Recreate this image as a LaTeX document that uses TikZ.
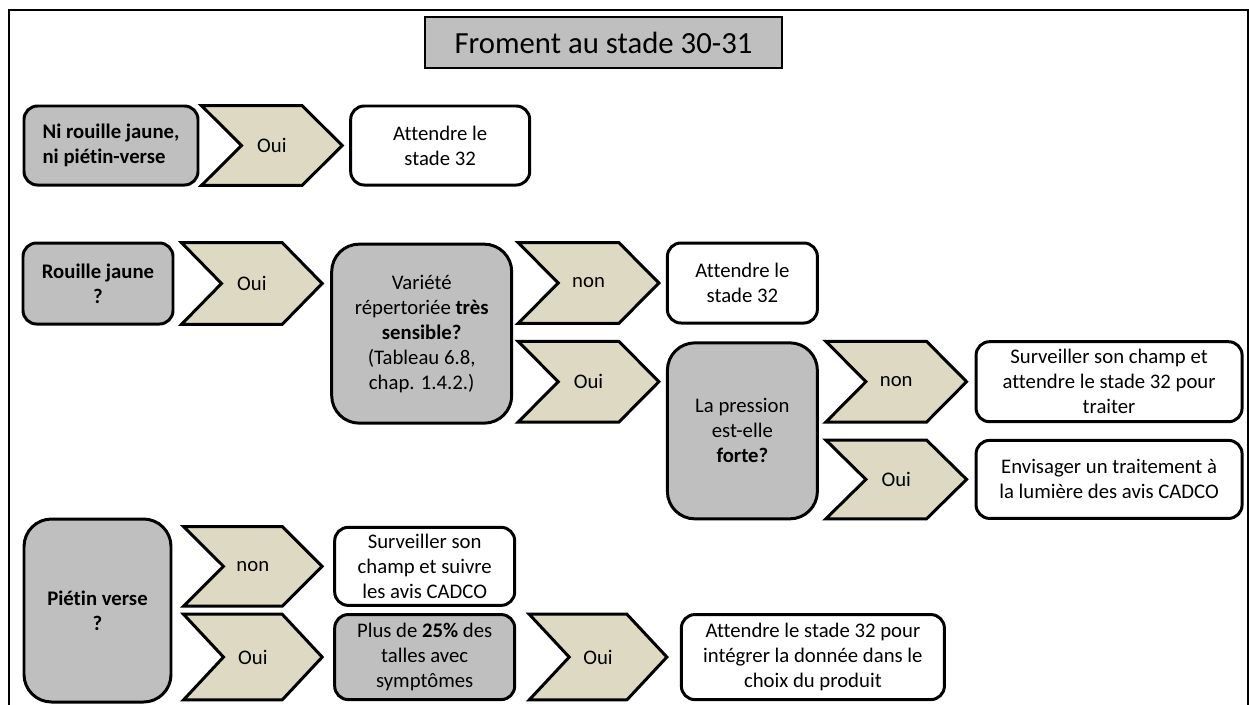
\documentclass[tikz,border=0pt]{standalone}
\usepackage{fontspec}
\setmainfont{Carlito}[Ligatures=CommonOff]
\usetikzlibrary{
    positioning,
    backgrounds,
}
\definecolor{boxgray}{RGB}{191,191,191}
\definecolor{chevtan}{RGB}{221,217,195}
\tikzset{
    node distance=0.14cm,
    every node/.style={font=\fontsize{11.8}{14.2}\selectfont},
    box/.style={rectangle, draw, line width=1.7pt, text centered, align=center, inner sep=2pt},
    question/.style={box, fill=boxgray},
    result/.style={box, fill=white},
    small/.style={rounded corners=0.27cm, minimum height=1.6cm},
    big/.style={rounded corners=0.55cm},
    chevron/.style={rectangle, minimum width=2.8cm, minimum height=1.6cm, inner sep=0pt},
    chevpath/.style={draw, line width=1.7pt, fill=chevtan, line join=miter},
}

\begin{document}
\begin{tikzpicture}
    \useasboundingbox (0,0) rectangle (24.98,-14.08);
    \draw[line width=1.4pt] (0.18,-14.4) -- (0.18,-0.2) -- (24.96,-0.2) -- (24.96,-14.4);

    \node[question, line width=1.1pt, minimum width=7.14cm, minimum height=1.02cm, font=\fontsize{17.5}{20}\selectfont] (title) at (12.07,-0.85) {Froment au stade 30-31};

    % ni rouille, ni pietin
    \node[question, small, minimum width=3.48cm, minimum height=1.58cm, align=left] (ni) at (2.22,-2.91) {\textbf{Ni rouille jaune,}\\\textbf{ni piétin-verse}};
    \node[chevron, minimum height=1.58cm, right=0.04cm of ni] (ni_oui) {Oui};
    \node[result, small, minimum width=3.58cm, minimum height=1.58cm, right=0.14cm of ni_oui] (ni_att) {Attendre le\\stade 32};

    % rouille jaune
    \node[question, small, minimum width=3cm, minimum height=1.62cm] (rj) at (1.96,-5.67) {\textbf{Rouille jaune}\\\textbf{?}};
    \node[chevron, minimum height=1.62cm, right=0.14cm of rj] (rj_oui) {Oui};
    \node[question, big, minimum width=3.6cm, minimum height=3.58cm, below right=0cm and 0.16cm of rj_oui.north east] (var) {Variété\\répertoriée \textbf{très}\\\textbf{sensible?}\\(Tableau 6.8,\\chap. 1.4.2.)};

    \node[chevron, below right=0cm and 0.1cm of var.north east] (var_non) {non};
    \node[chevron, below=0.36cm of var_non] (var_oui) {Oui};

    \node[result, small, minimum width=3cm, right=0.14cm of var_non] (var_att) {Attendre le\\stade 32};
    \node[question, big, minimum width=3cm, minimum height=3.52cm, below right=0cm and 0.14cm of var_oui.north east] (pres) {La pression\\est-elle\\\textbf{forte?}};

    \node[chevron, below right=0cm and 0.14cm of pres.north east] (pres_non) {non};
    \node[chevron, minimum height=1.56cm, below=0.36cm of pres_non] (pres_oui) {Oui};

    \node[result, small, minimum width=5.32cm, right=0.16cm of pres_non] (pres_surv) {Surveiller son champ et\\attendre le stade 32 pour\\traiter};
    \node[result, small, minimum width=5.32cm, minimum height=1.56cm, right=0.16cm of pres_oui] (pres_env) {Envisager un traitement à\\la lumière des avis CADCO};

    % pietin verse
    \node[question, big, minimum width=2.94cm, minimum height=3.66cm] (pv) at (1.95,-12.21) {\textbf{Piétin verse}\\\textbf{?}};
    \node[chevron, minimum width=2.76cm, minimum height=1.58cm, below right=0.18cm and 0.22cm of pv.north east] (pv_non) {non};
    \node[chevron, minimum width=2.76cm, minimum height=1.7cm, below=0.16cm of pv_non] (pv_oui) {Oui};

    \node[result, small, minimum width=3.6cm, minimum height=1.56cm, right=0.22cm of pv_non] (pv_surv) {Surveiller son\\champ et suivre\\les avis CADCO};
    \node[question, small, minimum width=3.6cm, minimum height=1.7cm, right=0.22cm of pv_oui] (plus) {Plus de \textbf{25\%} des\\talles avec\\symptômes};

    \node[chevron, minimum width=2.74cm, minimum height=1.7cm, right=0.26cm of plus] (plus_oui) {Oui};
    \node[result, small, minimum width=5.26cm, minimum height=1.7cm, right=0.26cm of plus_oui] (plus_att) {Attendre le stade 32 pour\\intégrer la donnée dans le\\choix du produit};

    % chevrons
    \begin{scope}[on background layer]
        \foreach \chev in {ni_oui, rj_oui, var_non, var_oui, pres_non, pres_oui, pv_non, pv_oui, plus_oui}
            \draw[chevpath] (\chev.north west) -- ([xshift=-0.8cm]\chev.north east) -- (\chev.east)
                -- ([xshift=-0.8cm]\chev.south east) -- (\chev.south west) -- ([xshift=0.8cm]\chev.west) -- cycle;
    \end{scope}
\end{tikzpicture}
\end{document}
